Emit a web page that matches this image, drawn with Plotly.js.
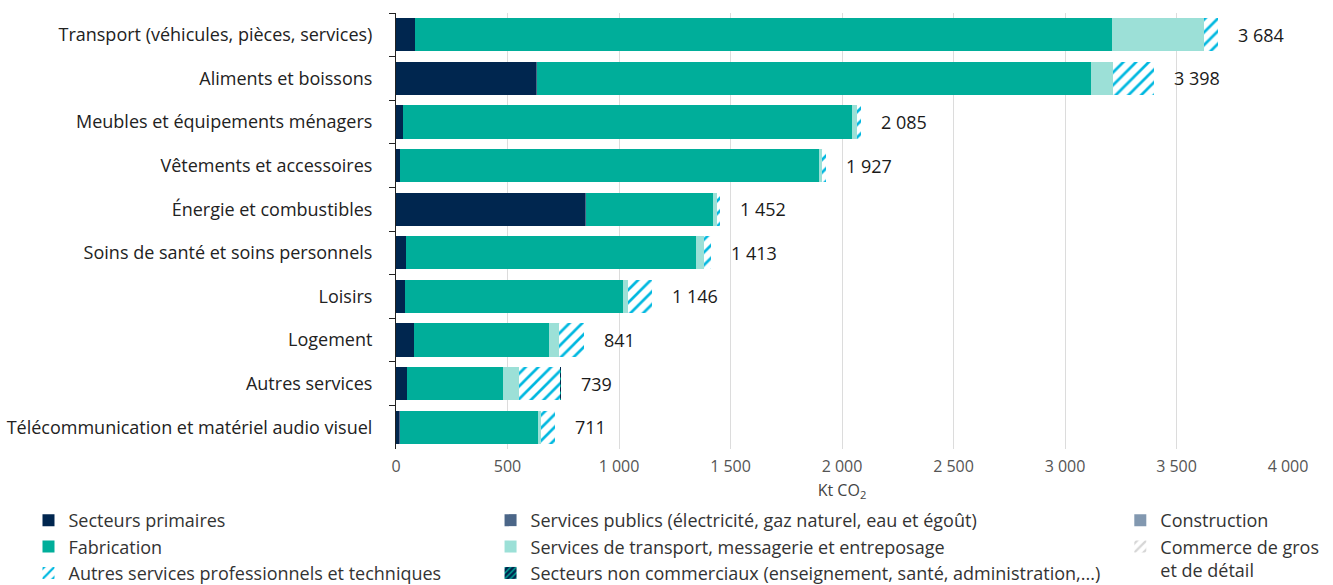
<!DOCTYPE html>
<html><head><meta charset="utf-8">
<script src="https://cdn.plot.ly/plotly-3.0.1.min.js"></script>
<style>html,body{margin:0;padding:0;background:#fff}#chart{width:1333px;height:585px}</style>
</head><body><div id="chart"></div>
<script>
const categories = [
  "Transport (véhicules, pièces, services)",
  "Aliments et boissons",
  "Meubles et équipements ménagers",
  "Vêtements et accessoires",
  "Énergie et combustibles",
  "Soins de santé et soins personnels",
  "Loisirs",
  "Logement",
  "Autres services",
  "Télécommunication et matériel audio visuel"
];
const primaires     = [85, 628, 31, 18, 848, 45, 40, 81, 49, 15];
const publics       = [2, 3, 1, 1, 6, 2, 2, 1, 1, 1];
const construction  = [0, 0, 0, 0, 0, 0, 0, 0, 0, 0];
const fabrication   = [3124, 2486, 2013, 1877, 566, 1298, 974, 605, 430, 621];
const transportServ = [412, 98, 20, 16, 20, 36, 24, 44, 70, 12];
const commerce      = [0, 0, 0, 0, 0, 0, 0, 0, 0, 0];
const autresServ    = [61, 183, 20, 15, 12, 30, 106, 110, 186, 62];
const nonComm       = [0, 0, 0, 0, 0, 2, 0, 0, 3, 0];
const totals        = [3684, 3398, 2085, 1927, 1452, 1413, 1146, 841, 739, 711];
const xTicks        = [0, 500, 1000, 1500, 2000, 2500, 3000, 3500, 4000];

function fmt(n){ return String(n).replace(/\B(?=(\d{3})+(?!\d))/g, " "); }

function bar(name, vals, color, legend, pattern){
  const m = {color: color, line: {width: 0}};
  if (pattern) m.pattern = pattern;
  return {type: "bar", orientation: "h", name: name, x: vals, y: categories,
    marker: m, legend: legend, hoverinfo: "x+name"};
}
const traces = [
  bar("Secteurs primaires", primaires, "#00264f", "legend"),
  bar("Services publics (électricité, gaz naturel, eau et égoût)", publics, "#4b6688", "legend2"),
  bar("Construction", construction, "#8298b0", "legend3"),
  bar("Fabrication", fabrication, "#00ae9a", "legend"),
  bar("Services de transport, messagerie et entreposage", transportServ, "#9ce0d7", "legend2"),
  bar("Commerce de gros<br>et de détail", commerce, "#ffffff", "legend3",
      {shape: "/", fgcolor: "#d6d6d6", bgcolor: "#ffffff", size: 8, solidity: 0.35}),
  bar("Autres services professionnels et techniques", autresServ, "#ffffff", "legend",
      {shape: "/", fgcolor: "#00b8e0", bgcolor: "#ffffff", size: 9, solidity: 0.3}),
  bar("Secteurs non commerciaux (enseignement, santé, administration,...)", nonComm, "#00264f", "legend2",
      {shape: "/", fgcolor: "#00ae9a", bgcolor: "#00264f", size: 5, solidity: 0.35})
];
const annotations = categories.map((c, i) => ({
  x: totals[i], y: c, xref: "x", yref: "y", text: fmt(totals[i]),
  showarrow: false, xanchor: "left", xshift: 18,
  font: {family: "Open Sans", size: 18, color: "#1a1a1a"}
}));
const legFont = {family: "Open Sans", size: 18, color: "#333"};
function leg(x){
  return {x: x, y: 0.142, xref: "paper", yref: "container", xanchor: "left", yanchor: "top",
    orientation: "v", font: legFont, tracegroupgap: 0, bgcolor: "rgba(0,0,0,0)",
    itemwidth: 30, traceorder: "normal", valign: "top"};
}
const layout = {
  width: 1333, height: 585,
  margin: {l: 396, r: 45, t: 13, b: 136, autoexpand: false},
  barmode: "stack", bargap: 0.24,
  separators: ", ",
  paper_bgcolor: "#fff", plot_bgcolor: "#fff",
  font: {family: "Open Sans", color: "#333"},
  showlegend: true,
  xaxis: {range: [0, 4000], tickvals: xTicks, separatethousands: true, automargin: false,
    showgrid: true, gridcolor: "#dcdcdc", gridwidth: 1, zeroline: false,
    showline: false, ticks: "", ticklabelstandoff: 6,
    tickfont: {family: "Liberation Sans Narrow, Open Sans", size: 16, color: "#555"},
    title: {text: "Kt CO<sub>2</sub>", font: {family: "Liberation Sans Narrow, Open Sans", size: 16, color: "#444"}, standoff: 8}},
  yaxis: {autorange: "reversed", showline: true, linecolor: "#222", linewidth: 1, automargin: false,
    ticks: "outside", tickson: "boundaries", ticklen: 6, tickcolor: "#222", ticklabelstandoff: 19,
    tickfont: {family: "Open Sans", size: 18, color: "#222"}, showgrid: false},
  legend: leg(-0.412),
  legend2: leg(0.106),
  legend3: leg(0.812),
  annotations: annotations
};
Plotly.newPlot("chart", traces, layout, {displayModeBar: false, staticPlot: true});
</script></body></html>
